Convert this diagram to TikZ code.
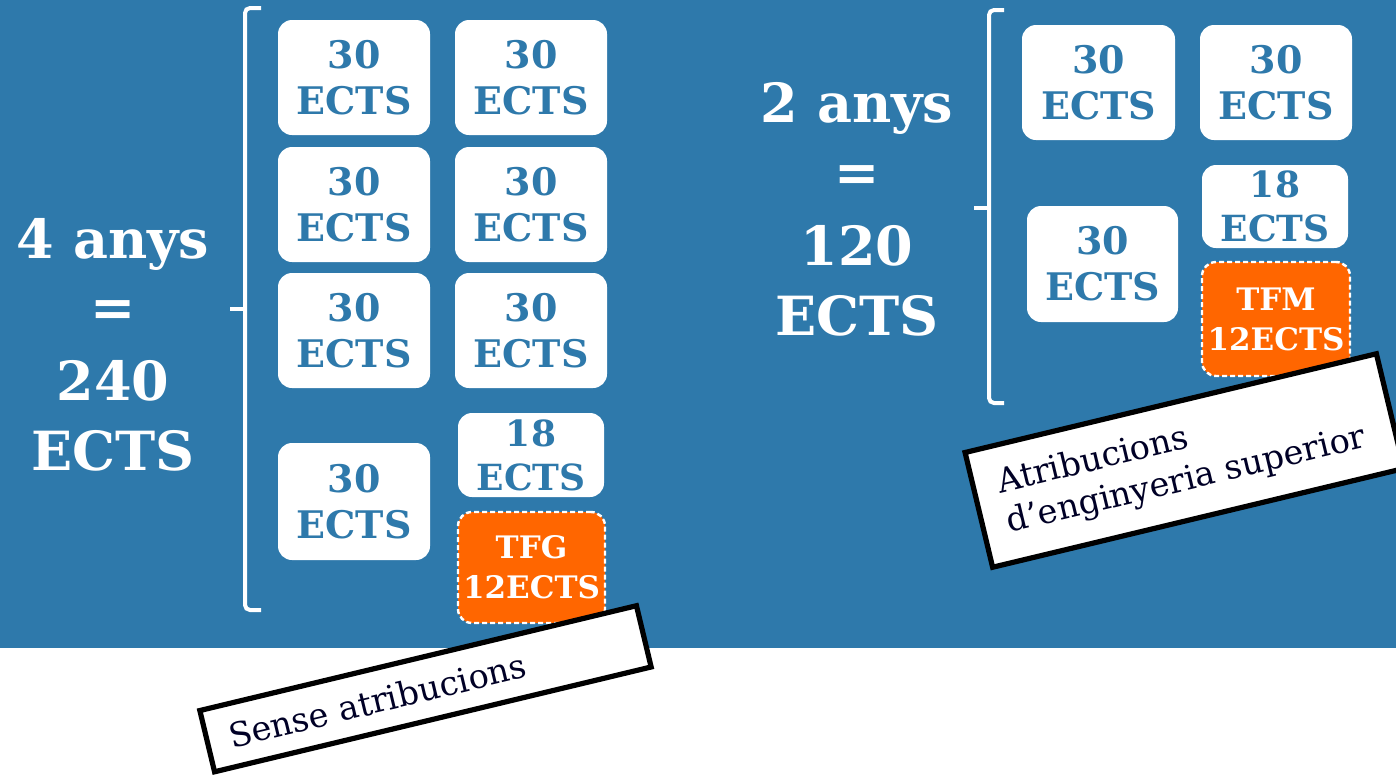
\documentclass[tikz,border=0pt]{standalone}
\usepackage{fontspec}
\setmainfont{DejaVu Serif}
\definecolor{bg}{HTML}{2E79AB}
\definecolor{tfo}{HTML}{FF6600}
\tikzset{
  ects/.style={fill=white, rounded corners=7pt, text=bg, align=center, inner sep=0pt,
    font=\bfseries\fontsize{19}{23}\selectfont},
  tfbox/.style={fill=tfo, draw=white, dash pattern=on 2.5pt off 1.5pt, line width=1.2pt,
    rounded corners=7pt, text=white, align=center, inner sep=0pt,
    font=\bfseries\fontsize{15.5}{20}\selectfont},
  big/.style={text=white, inner sep=0pt, anchor=base, font=\bfseries\fontsize{27}{35}\selectfont},
  bracketline/.style={draw=white, line width=2pt, rounded corners=2.5pt},
  lab/.style={draw=black, line width=2.6pt, fill=white, rotate=13.5, align=left,
    font=\fontsize{16.8}{20.5}\selectfont, text=black!85!blue}
}
\begin{document}
\begin{tikzpicture}[x=0.5pt,y=-0.5pt]
\useasboundingbox (0,0) rectangle (1396,777);
\fill[white] (0,0) rectangle (1396,777);
\fill[bg] (0,0) rectangle (1396,648);

% left grid
\node[ects, minimum width=76pt, minimum height=57.5pt] (a11) at (354,77.5) {30\\ECTS};
\node[ects, minimum width=76pt, minimum height=57.5pt] (a12) at (531,77.5) {30\\ECTS};
\node[ects, minimum width=76pt, minimum height=57.5pt] (a21) at (354,204.5) {30\\ECTS};
\node[ects, minimum width=76pt, minimum height=57.5pt] (a22) at (531,204.5) {30\\ECTS};
\node[ects, minimum width=76pt, minimum height=57.5pt] (a31) at (354,330.5) {30\\ECTS};
\node[ects, minimum width=76pt, minimum height=57.5pt] (a32) at (531,330.5) {30\\ECTS};
\node[ects, minimum width=76pt, minimum height=58.5pt] (a41) at (354,501.5) {30\\ECTS};
\node[ects, minimum width=73pt, minimum height=42pt, font=\bfseries\fontsize{18}{22}\selectfont] (a42) at (531,455) {18\\ECTS};
\node[tfbox, minimum width=73.5pt, minimum height=55.5pt] (tfg) at (531.5,567.5) {TFG\\12ECTS};

% right grid
\node[ects, minimum width=76.5pt, minimum height=57.5pt] (b11) at (1098.5,82.5) {30\\ECTS};
\node[ects, minimum width=76pt, minimum height=57.5pt] (b12) at (1276,82.5) {30\\ECTS};
\node[ects, minimum width=75.5pt, minimum height=58pt] (b21) at (1102.5,264) {30\\ECTS};
\node[ects, minimum width=73pt, minimum height=41.5pt, font=\bfseries\fontsize{18}{22}\selectfont] (b22) at (1275,206.5) {18\\ECTS};
\node[tfbox, minimum width=74pt, minimum height=57pt] (tfm) at (1276,319) {TFM\\12ECTS};

% brackets
\draw[bracketline] (261,8) -- (245,8) -- (245,610) -- (261,610);
\draw[bracketline, rounded corners=1.5pt] (230,309) -- (245,309);
\draw[bracketline] (1004,10) -- (989,10) -- (989,403) -- (1004,403);
\draw[bracketline, rounded corners=1.5pt] (974,208) -- (989,208);

% big text left
\node[big] (l1) at (113,258) {4 anys};
\node[big] (l2) at (113,326) {=};
\node[big] (l3) at (113,400) {240};
\node[big] (l4) at (113,470) {ECTS};

% big text right
\node[big] (r1) at (857,122) {2 anys};
\node[big] (r2) at (857,191) {=};
\node[big] (r3) at (857,265) {120};
\node[big] (r4) at (857,335) {ECTS};

% labels
\node[lab, minimum width=224.5pt, minimum height=31.5pt, inner xsep=11pt, text width=202pt]
  (sense) at (425.5,688.75) {Sense atribucions};
\node[lab, minimum width=211.5pt, minimum height=59pt, inner xsep=12pt, text width=187pt]
  (atrib) at (1184.5,460.5) {Atribucions\\d’enginyeria superior};
\end{tikzpicture}
\end{document}
